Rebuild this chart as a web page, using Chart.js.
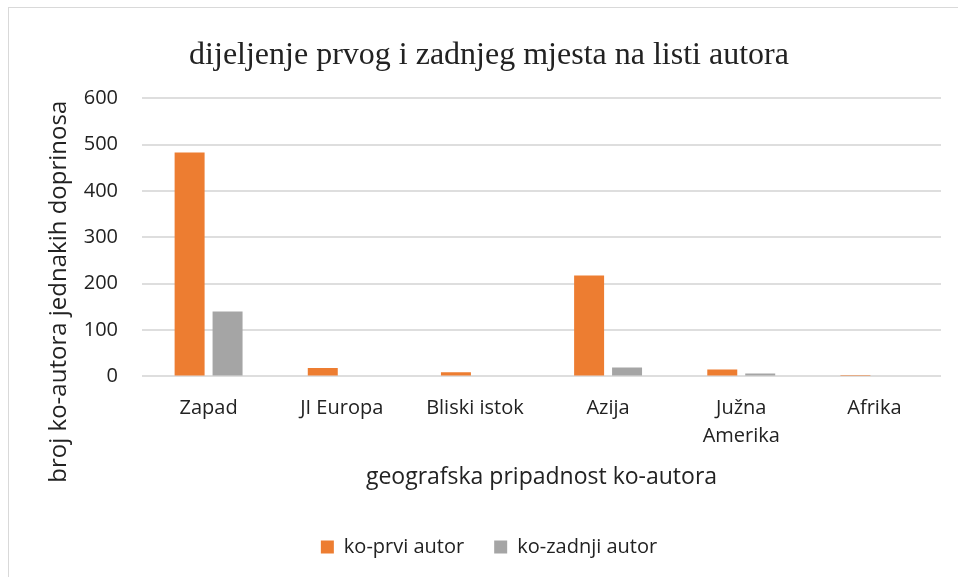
<!DOCTYPE html>
<html lang="hr">
<head>
    <meta charset="UTF-8">
    <title>dijeljenje prvog i zadnjeg mjesta na listi autora</title>
    <script src="https://cdn.jsdelivr.net/npm/chart.js"></script>
    <style>
        html, body {
            margin: 0;
            padding: 0;
            background: #ffffff;
            overflow: hidden;
        }
        /* okvir grafikona kao u Excelu, desni i donji rub izvan slike */
        .chart-box {
            position: absolute;
            left: 8px;
            top: 7px;
            width: 978px;
            height: 590px;
            border: 1px solid #d9d9d9;
        }
    </style>
</head>
<body>
    <div class="chart-box">
        <canvas id="grafikon"></canvas>
    </div>

    <script>
        // podaci
        const regije = ['Zapad', 'JI Europa', 'Bliski istok', 'Azija', ['Južna', 'Amerika'], 'Afrika'];
        const koPrvi = [483, 18, 9, 218, 15, 3];
        const koZadnji = [140, 0, 0, 19, 6, 0];
        const yTicks = [0, 100, 200, 300, 400, 500, 600];
        const yNaslov = 'broj ko-autora jednakih doprinosa';

        const tekst = '#222222';
        const font = "'Open Sans', sans-serif";

        // naslov y osi centriran kao u Excelu (na podrucje crteza zajedno s oznakama x osi)
        const naslovY = {
            id: 'naslovY',
            afterDraw(chart) {
                const c = chart.ctx;
                const y = chart.scales.y, x = chart.scales.x;
                c.save();
                c.translate(y.left + 22, (chart.chartArea.top + x.bottom) / 2 - 11);
                c.rotate(-Math.PI / 2);
                c.fillStyle = tekst;
                c.font = "24px 'Open Sans', sans-serif";
                c.textAlign = 'center';
                c.textBaseline = 'middle';
                c.fillText(yNaslov, 0, 0);
                c.restore();
            }
        };

        const ctx = document.getElementById('grafikon').getContext('2d');
        const grafikon = new Chart(ctx, {
            type: 'bar',
            data: {
                labels: regije,
                datasets: [
                    { label: 'ko-prvi autor', data: koPrvi, backgroundColor: '#ED7D31' },
                    { label: 'ko-zadnji autor', data: koZadnji, backgroundColor: '#A5A5A5' }
                ]
            },
            options: {
                responsive: true,
                maintainAspectRatio: false,
                animation: false,
                categoryPercentage: 0.57,
                barPercentage: 0.79,
                layout: {
                    padding: { left: 28, right: 46, top: 0, bottom: 31 }
                },
                scales: {
                    x: {
                        grid: { display: false, drawTicks: false },
                        border: { display: false },
                        ticks: {
                            color: tekst,
                            padding: 18,
                            maxRotation: 0,
                            autoSkip: false,
                            font: { family: font, size: 20, lineHeight: 1.4 }
                        },
                        title: {
                            display: true,
                            text: 'geografska pripadnost ko-autora',
                            color: tekst,
                            padding: { top: -5, bottom: 16 },
                            font: { family: font, size: 23 }
                        }
                    },
                    y: {
                        min: yTicks[0],
                        max: yTicks[yTicks.length - 1],
                        afterBuildTicks: s => { s.ticks = yTicks.map(v => ({ value: v })); },
                        afterFit: s => { s.width = 105; },
                        grid: { color: '#dedede', lineWidth: 2, drawTicks: false },
                        border: { display: false },
                        ticks: {
                            color: tekst,
                            padding: 24,
                            font: { family: font, size: 20 }
                        }
                    }
                },
                plugins: {
                    title: {
                        display: true,
                        text: 'dijeljenje prvog i zadnjeg mjesta na listi autora',
                        color: tekst,
                        padding: { top: 28, bottom: 24 },
                        font: { family: "'Liberation Serif', 'Times New Roman', serif", size: 32, weight: 'normal' }
                    },
                    legend: {
                        position: 'bottom',
                        labels: {
                            color: tekst,
                            boxWidth: 13,
                            boxHeight: 13,
                            padding: 30,
                            font: { family: font, size: 20 }
                        }
                    },
                    tooltip: { enabled: false }
                }
            },
            plugins: [naslovY]
        });
    </script>
</body>
</html>
